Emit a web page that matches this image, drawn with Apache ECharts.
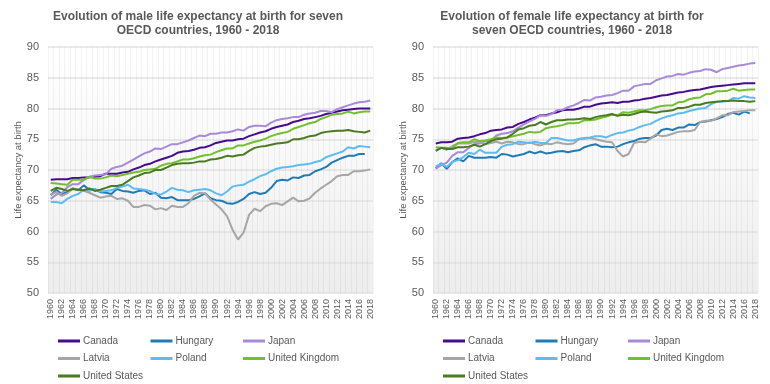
<!DOCTYPE html>
<html><head><meta charset="utf-8">
<script src="https://cdn.jsdelivr.net/npm/echarts@6/dist/echarts.min.js"></script>
<style>html,body{margin:0;padding:0;background:#fff}#c{width:770px;height:384px}</style>
</head><body><div id="c"></div>
<script>
var years = [];
for (var y = 1960; y <= 2018; y++) years.push(String(y));

var countries = ['Canada','Hungary','Japan','Latvia','Poland','United Kingdom','United States'];
var colors = ['#470b8e','#1f7bb6','#a98ad8','#a6a6a6','#5dbcf0','#72c02c','#4a7b20'];

var maleCanada = [68.4,68.5,68.5,68.5,68.7,68.7,68.8,68.8,68.9,69.0,
69.4,69.4,69.4,69.6,69.7,70.1,70.4,70.8,71.0,71.4,
71.7,72.0,72.3,72.8,73.0,73.1,73.3,73.6,73.7,74.0,
74.4,74.6,74.8,74.8,75.0,75.1,75.5,75.8,76.1,76.3,
76.7,77.0,77.2,77.4,77.8,78.0,78.3,78.4,78.6,78.8,
79.1,79.3,79.5,79.7,79.8,79.9,80.0,80.0,80.0];
var maleHungary = [65.9,66.8,66.1,66.4,67.0,66.7,67.5,66.8,66.9,66.4,
66.3,66.1,66.9,66.6,66.5,66.3,66.6,66.7,66.1,66.3,
65.5,65.4,65.6,65.1,65.1,65.1,65.3,65.7,66.2,65.4,
65.1,65.0,64.6,64.5,64.8,65.3,66.1,66.4,66.1,66.3,
67.1,68.2,68.4,68.3,68.8,68.7,69.1,69.2,69.8,70.1,
70.5,71.2,71.6,72.0,72.3,72.3,72.6,72.6,null];
var maleJapan = [65.3,66.0,66.2,67.2,67.7,67.7,68.4,68.9,69.1,69.2,
69.3,70.2,70.5,70.7,71.2,71.7,72.2,72.7,73.0,73.5,
73.4,73.8,74.2,74.2,74.5,74.8,75.2,75.6,75.5,75.9,
75.9,76.1,76.1,76.3,76.6,76.4,77.0,77.2,77.2,77.1,
77.7,78.1,78.3,78.4,78.6,78.6,79.0,79.2,79.3,79.6,
79.6,79.4,79.9,80.2,80.5,80.8,81.0,81.1,81.3];
var maleLatvia = [66.0,66.4,65.8,66.2,67.0,66.8,66.6,66.3,65.9,65.5,
65.7,65.8,65.3,65.4,65.0,64.0,64.0,64.3,64.2,63.6,
63.8,63.5,64.2,64.0,64.0,64.6,65.8,66.3,66.2,65.2,
64.4,63.6,62.5,60.3,58.7,59.8,62.7,63.7,63.3,64.1,
64.5,64.6,64.3,64.9,65.5,64.9,65.0,65.4,66.3,67.0,
67.6,68.2,69.0,69.2,69.2,69.8,69.8,69.9,70.1];
var malePoland = [64.8,64.8,64.6,65.3,65.8,66.1,66.8,66.6,66.9,66.5,
66.6,66.7,67.1,67.3,67.6,67.0,66.9,66.8,66.6,66.1,
66.0,66.5,67.1,66.8,66.7,66.4,66.7,66.8,66.9,66.7,
66.2,65.9,66.5,67.3,67.5,67.6,68.1,68.5,69.0,69.3,
69.8,70.2,70.4,70.5,70.6,70.8,70.9,71.0,71.3,71.5,
72.1,72.4,72.7,73.0,73.7,73.5,73.9,73.8,73.7];
var maleUK = [67.9,67.8,67.7,67.6,68.4,68.4,68.4,68.9,68.6,68.6,
68.8,69.1,69.0,69.2,69.4,69.6,69.7,70.0,70.1,70.2,
70.7,71.0,71.1,71.4,71.7,71.7,71.9,72.2,72.4,72.5,
72.9,73.2,73.5,73.5,74.0,74.0,74.3,74.6,74.8,75.1,
75.5,75.8,76.0,76.2,76.7,77.0,77.3,77.6,77.8,78.3,
78.6,79.0,79.1,79.2,79.5,79.2,79.4,79.5,79.5];
var maleUS = [66.6,67.1,66.9,66.6,66.9,66.8,66.7,67.0,66.6,66.8,
67.1,67.4,67.4,67.6,68.2,68.8,69.1,69.5,69.6,70.0,
70.0,70.4,70.8,71.0,71.1,71.1,71.2,71.4,71.4,71.7,
71.8,72.0,72.3,72.2,72.4,72.5,73.1,73.6,73.8,73.9,
74.1,74.3,74.4,74.5,75.0,75.0,75.2,75.5,75.6,76.0,
76.2,76.3,76.4,76.4,76.5,76.3,76.2,76.1,76.4];

var femaleCanada = [74.3,74.5,74.5,74.6,75.1,75.2,75.3,75.5,75.8,76.0,
76.4,76.5,76.6,76.9,77.0,77.5,77.8,78.2,78.5,78.9,
78.9,79.2,79.4,79.7,79.8,79.8,80.0,80.3,80.3,80.6,
80.8,80.9,81.0,80.9,81.1,81.1,81.3,81.4,81.6,81.7,
81.9,82.1,82.2,82.4,82.6,82.7,82.9,83.0,83.1,83.3,
83.5,83.6,83.7,83.8,83.9,84.0,84.1,84.1,84.1];
var femaleHungary = [70.3,71.1,70.2,71.3,71.9,71.4,72.3,72.0,72.0,72.0,
72.1,72.0,72.6,72.5,72.2,72.4,72.6,73.0,72.7,73.0,
72.7,72.8,73.0,73.1,72.9,73.1,73.2,73.7,74.0,74.2,
73.8,73.8,73.7,73.8,74.2,74.5,74.7,75.1,75.2,75.2,
75.6,76.5,76.7,76.5,76.9,76.9,77.4,77.3,77.8,77.9,
78.1,78.3,78.6,79.1,79.3,79.0,79.5,79.2,null];
var femaleJapan = [70.2,70.8,71.2,72.3,72.9,72.9,73.6,74.2,74.3,74.7,
74.7,75.6,75.9,76.0,76.3,76.9,77.4,77.9,78.3,78.9,
78.8,79.1,79.7,79.8,80.2,80.5,80.9,81.4,81.3,81.8,
81.9,82.1,82.2,82.5,82.9,82.9,83.6,83.8,84.0,84.0,
84.6,84.9,85.2,85.3,85.6,85.5,85.8,86.0,86.1,86.4,
86.3,85.9,86.4,86.6,86.8,87.0,87.1,87.3,87.4];
var femaleLatvia = [73.2,73.6,73.3,73.9,74.3,74.3,74.3,74.6,74.5,74.2,
74.4,74.6,74.3,74.6,74.5,74.2,74.2,74.5,74.2,74.0,
74.3,74.2,74.5,74.3,74.2,74.3,75.0,75.1,75.2,75.0,
74.8,74.6,74.5,73.1,72.2,72.6,74.4,74.6,74.5,75.1,
75.8,75.5,75.6,75.9,76.2,76.3,76.3,76.5,77.8,78.0,
78.0,78.4,78.9,78.9,79.4,79.5,79.6,79.7,79.7];
var femalePoland = [70.6,71.0,70.5,71.3,71.6,72.1,72.8,72.6,73.3,72.8,
72.8,72.8,73.8,74.1,74.2,74.6,74.5,74.4,74.6,74.4,
74.4,75.2,75.2,75.0,74.8,74.8,75.1,75.2,75.3,75.5,
75.5,75.3,75.7,76.0,76.1,76.4,76.6,77.0,77.3,77.5,
78.0,78.4,78.7,78.9,79.2,79.3,79.6,79.8,80.0,80.1,
80.7,81.1,81.1,81.2,81.7,81.6,82.0,81.8,81.7];
var femaleUK = [73.7,73.6,73.6,73.5,74.4,74.5,74.5,75.0,74.7,74.8,
75.0,75.3,75.2,75.3,75.5,75.7,75.9,76.2,76.1,76.2,
76.8,77.0,77.1,77.3,77.6,77.6,77.7,78.1,78.1,78.2,
78.5,78.7,79.0,78.9,79.4,79.3,79.5,79.7,79.7,79.9,
80.2,80.4,80.5,80.5,81.0,81.1,81.5,81.7,81.8,82.3,
82.4,82.8,82.8,82.9,83.2,82.9,83.0,83.1,83.1];
var femaleUS = [73.1,73.6,73.4,73.4,73.7,73.7,73.8,74.1,73.8,74.2,
74.7,75.0,75.1,75.3,75.9,76.6,76.8,77.2,77.3,77.8,
77.4,77.8,78.1,78.1,78.2,78.2,78.3,78.4,78.3,78.6,
78.8,78.9,79.1,78.8,79.0,78.9,79.1,79.4,79.5,79.4,
79.3,79.5,79.6,79.7,80.1,80.1,80.3,80.6,80.6,80.9,
81.0,81.1,81.2,81.2,81.3,81.2,81.2,81.1,81.2];

var maleData = [maleCanada, maleHungary, maleJapan, maleLatvia, malePoland, maleUK, maleUS];
var femaleData = [femaleCanada, femaleHungary, femaleJapan, femaleLatvia, femalePoland, femaleUK, femaleUS];

var yTicks = {min: 50, max: 90, interval: 5};
var titleMale = 'Evolution of male life expectancy at birth for seven\nOECD countries, 1960 - 2018';
var titleFemale = 'Evolution of female life expectancy at birth for\nseven OECD countries, 1960 - 2018';
var yName = 'Life expectancy at birth';

var FONT = '"Liberation Sans", Arial, sans-serif';
var TXT = '#595959';

var bg = new echarts.graphic.LinearGradient(0, 0, 0, 1, [
  {offset: 0, color: '#ffffff'}, {offset: 0.3, color: '#fbfbfb'}, {offset: 1, color: '#ededed'}
]);

function grid(left) {
  return {left: left, width: 325, top: 47, bottom: 91, show: true, borderWidth: 0, backgroundColor: bg};
}
function xAxis(i) {
  return {
    type: 'category', gridIndex: i, data: years, boundaryGap: true,
    axisLine: {show: false}, axisTick: {show: false},
    axisLabel: {interval: 1, rotate: 90, fontSize: 9, color: TXT, fontFamily: FONT, margin: 6},
    splitLine: {show: true, interval: 0, lineStyle: {color: 'rgba(0,0,0,0.045)', width: 1}}
  };
}
function yAxis(i) {
  return {
    type: 'value', gridIndex: i, min: yTicks.min, max: yTicks.max, interval: yTicks.interval,
    name: yName, nameLocation: 'middle', nameGap: 25, nameRotate: 90, nameMoveOverlap: false,
    nameTextStyle: {fontSize: 9.5, color: TXT, fontFamily: FONT},
    axisLine: {show: false}, axisTick: {show: false},
    axisLabel: {fontSize: 11, color: TXT, fontFamily: FONT, margin: 9},
    splitLine: {lineStyle: {color: '#e2e2e2', width: 1.5}}
  };
}
function legend(left) {
  return {
    data: countries, left: left, top: 330, width: 290, orient: 'horizontal',
    icon: 'rect', itemWidth: 22, itemHeight: 3, itemGap: 5.5,
    textStyle: {fontSize: 10, color: TXT, fontFamily: FONT, width: 62, lineHeight: 12, padding: [0,0,0,-2]}
  };
}

var series = [];
countries.forEach(function (c, k) {
  series.push({name: c, type: 'line', xAxisIndex: 0, yAxisIndex: 0, data: maleData[k],
    showSymbol: false, symbol: 'none', lineStyle: {width: 2, color: colors[k]}, itemStyle: {color: colors[k]}, animation: false});
});
countries.forEach(function (c, k) {
  series.push({name: c, type: 'line', xAxisIndex: 1, yAxisIndex: 1, data: femaleData[k],
    showSymbol: false, symbol: 'none', lineStyle: {width: 2, color: colors[k]}, itemStyle: {color: colors[k]}, animation: false});
});

var chart = echarts.init(document.getElementById('c'), null, {renderer: 'canvas'});
chart.setOption({
  animation: false,
  backgroundColor: '#fff',
  title: [
    {text: titleMale, left: 193, top: 4, textAlign: 'center',
     textStyle: {fontSize: 12, fontWeight: 'bold', color: TXT, fontFamily: FONT, lineHeight: 14.5}},
    {text: titleFemale, left: 567, top: 4, textAlign: 'center',
     textStyle: {fontSize: 12, fontWeight: 'bold', color: TXT, fontFamily: FONT, lineHeight: 14.5}}
  ],
  grid: [grid(48), grid(433)],
  xAxis: [xAxis(0), xAxis(1)],
  yAxis: [yAxis(0), yAxis(1)],
  legend: [legend(53), legend(438)],
  series: series
});
</script>
</body></html>
